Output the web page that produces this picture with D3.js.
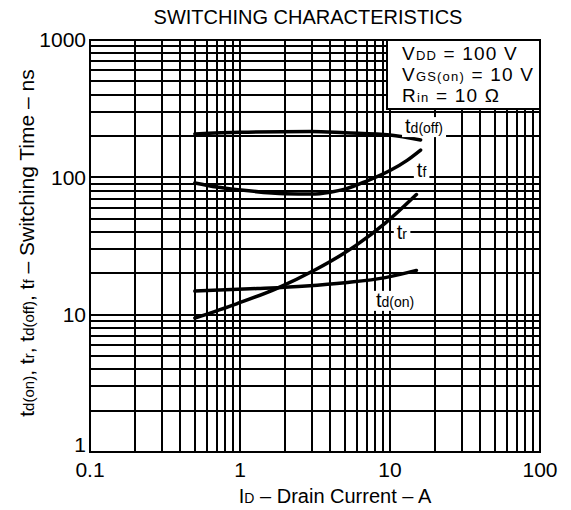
<!DOCTYPE html>
<html>
<head>
<meta charset="utf-8">
<script src="https://cdn.jsdelivr.net/npm/d3@7"></script>
<style>
  body { margin: 0; background: #fff; }
  svg { display: block; font-family: "Liberation Sans", Arial, sans-serif; }
</style>
</head>
<body>
<svg id="chart" width="571" height="510"></svg>
<script>
// axis ticks
const xTickLabels = [0.1, 1, 10, 100],
  yTickLabels = [1, 10, 100, 1000];

// curves (drain current A, time ns)
const tdOnCurrent = [0.5, 1.3, 2.75, 5, 9.3, 15],
  tdOnTime = [14.85, 15.5, 16.2, 17.1, 18.6, 21];
const trCurrent = [0.5, 0.95, 1.75, 3.2, 5.9, 9.3, 15],
  trTime = [9.45, 12, 15.5, 21.3, 31.8, 46.4, 75];
const tdOffCurrent = [0.5, 1, 3, 5, 10, 16],
  tdOffTime = [207, 213, 216, 211, 203, 187];
const tfCurrent = [0.5, 0.7, 1, 2, 3, 4, 5, 7, 10, 13, 16],
  tfTime = [91, 85, 81, 76, 75.5, 78, 82, 94, 112, 133, 158];

// curve labels: subscript text and anchor in data units
const curveLabels = [
  { sub: 'd(off)', current: 12.6, time: 210 },
  { sub: 'f', current: 15.1, time: 100 },
  { sub: 'r', current: 11.1, time: 35.6 },
  { sub: 'd(on)', current: 8.07, time: 11.4 }
];

const conditions = [
  ['V', 'DD', ' = 100 V'],
  ['V', 'GS(on)', ' = 10 V'],
  ['R', 'in', ' = 10 Ω']
];

const x = d3.scaleLog().domain([0.1, 100]).range([90, 540]),
  y = d3.scaleLog().domain([1, 1000]).range([452, 40]);

const svg = d3.select('#chart');

// grid
const grid = svg.append('g').attr('stroke', '#000').attr('stroke-width', 2);
grid.selectAll('line.v')
  .data(x.ticks())
  .join('line')
  .attr('class', 'v')
  .attr('x1', d => Math.round(x(d))).attr('x2', d => Math.round(x(d)))
  .attr('y1', y(1000)).attr('y2', y(1));
grid.selectAll('line.h')
  .data(y.ticks())
  .join('line')
  .attr('class', 'h')
  .attr('y1', d => Math.round(y(d))).attr('y2', d => Math.round(y(d)))
  .attr('x1', x(0.1)).attr('x2', x(100));

// conditions box
const box = svg.append('g');
box.append('rect')
  .attr('x', 387).attr('y', y(1000))
  .attr('width', x(100) - 387).attr('height', 69)
  .attr('fill', '#fff').attr('stroke', '#000').attr('stroke-width', 2);
conditions.forEach((c, i) => {
  const t = box.append('text')
    .attr('x', 402).attr('y', 60 + i * 21)
    .attr('font-size', 19)
    .attr('letter-spacing', 1.2);
  t.append('tspan').text(c[0]);
  t.append('tspan').attr('font-size', 13).text(c[1]);
  t.append('tspan').text(c[2]);
});

// curves
const line = d3.line()
  .x(d => x(d[0]))
  .y(d => y(d[1]))
  .curve(d3.curveMonotoneX);
const series = [
  [tdOnCurrent, tdOnTime],
  [trCurrent, trTime],
  [tdOffCurrent, tdOffTime],
  [tfCurrent, tfTime]
];
svg.append('g')
  .selectAll('path')
  .data(series.map(s => s[0].map((c, i) => [c, s[1][i]])))
  .join('path')
  .attr('d', line)
  .attr('fill', 'none')
  .attr('stroke', '#000')
  .attr('stroke-width', 3.5)
  .attr('stroke-linecap', 'round');

// curve labels with white backing
const labels = svg.append('g');
curveLabels.forEach(l => {
  const g = labels.append('g');
  const t = g.append('text')
    .attr('x', x(l.current)).attr('y', y(l.time))
    .attr('font-size', 20);
  t.append('tspan').text('t');
  t.append('tspan').attr('font-size', 14).text(l.sub);
  const bb = t.node().getBBox();
  g.insert('rect', 'text')
    .attr('x', bb.x - 3).attr('y', bb.y + 2)
    .attr('width', bb.width + 6).attr('height', bb.height - 2)
    .attr('fill', '#fff');
});

// border
svg.append('rect')
  .attr('x', x(0.1)).attr('y', y(1000))
  .attr('width', x(100) - x(0.1)).attr('height', y(1) - y(1000))
  .attr('fill', 'none').attr('stroke', '#000').attr('stroke-width', 2);

// tick labels
svg.append('g')
  .selectAll('text')
  .data(xTickLabels)
  .join('text')
  .attr('x', d => x(d)).attr('y', 477)
  .attr('text-anchor', 'middle')
  .attr('font-size', 21)
  .text(d => d);
svg.append('g')
  .selectAll('text')
  .data(yTickLabels)
  .join('text')
  .attr('x', 86).attr('y', d => y(d))
  .attr('dy', d => d === 1 ? '0em' : '0.35em')
  .attr('text-anchor', 'end')
  .attr('font-size', 21)
  .text(d => d);

// titles
svg.append('text')
  .attr('x', 308).attr('y', 24)
  .attr('text-anchor', 'middle')
  .attr('font-size', 20)
  .text('SWITCHING CHARACTERISTICS');

const xTitle = svg.append('text')
  .attr('x', 335).attr('y', 503)
  .attr('text-anchor', 'middle')
  .attr('font-size', 20);
xTitle.append('tspan').text('I');
xTitle.append('tspan').attr('font-size', 14).text('D');
xTitle.append('tspan').text(' – Drain Current – A');

const yTitle = svg.append('text')
  .attr('transform', 'translate(34,243) rotate(-90)')
  .attr('text-anchor', 'middle')
  .attr('font-size', 21);
[['t', 'd(on)'], [', t', 'r'], [', t', 'd(off)'], [', t', 'f'], [' – Switching Time – ns', '']]
  .forEach(p => {
    yTitle.append('tspan').text(p[0]);
    if (p[1]) yTitle.append('tspan').attr('font-size', 15).text(p[1]);
  });
</script>
</body>
</html>
